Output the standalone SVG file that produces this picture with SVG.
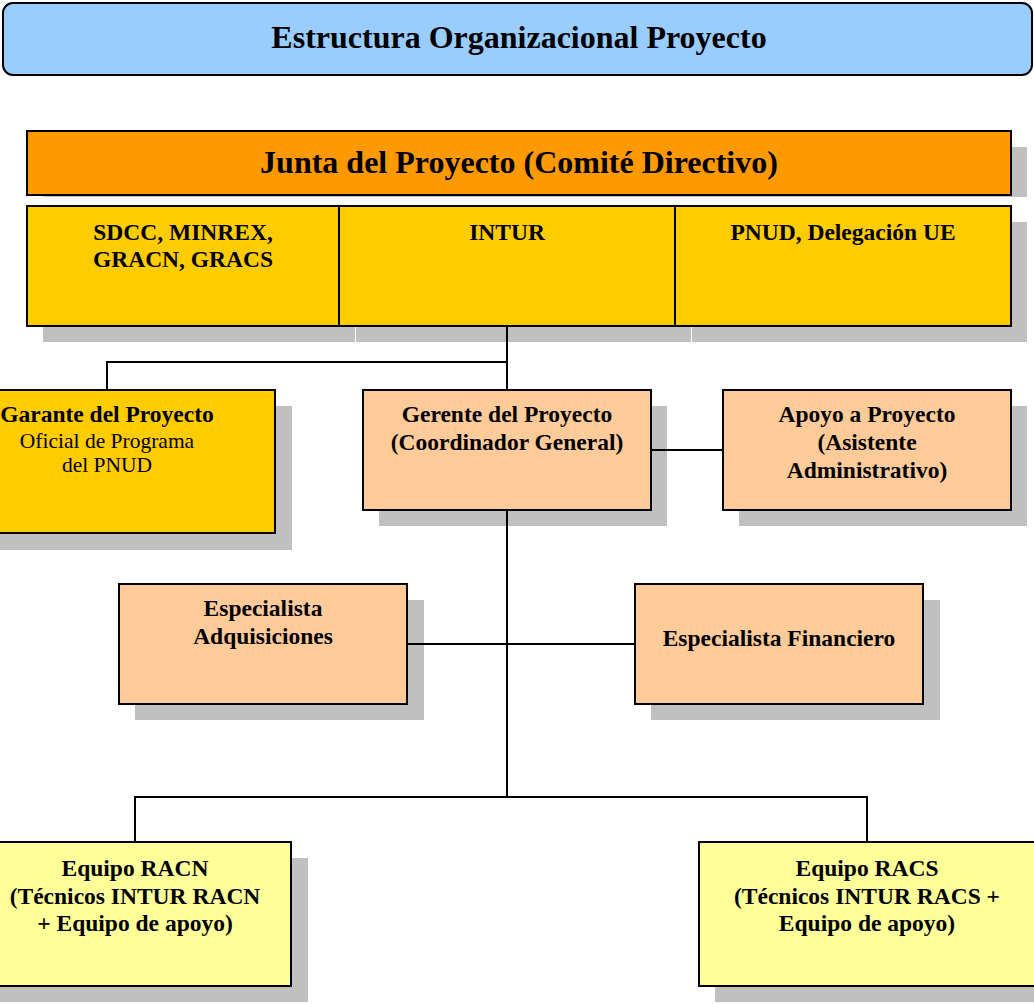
<svg xmlns="http://www.w3.org/2000/svg" width="1034" height="1004" viewBox="0 0 1034 1004">
<style>
.sh{fill:#C0C0C0}
.bx{stroke:#000;stroke-width:2}
.t{font-family:"Liberation Serif","Times New Roman",serif;font-size:23.5px;font-weight:bold;text-anchor:middle;fill:#000}
.r{font-weight:normal;font-size:21.5px}
.big{font-size:32px}
.ln{stroke:#000;stroke-width:2;fill:none}
</style>
<rect width="1034" height="1004" fill="#fff"/>
<g id="title">
<rect x="3" y="3" width="1029" height="72" rx="10" ry="10" fill="#99CCFF" class="bx"/>
<text x="519" y="48" class="t big">Estructura Organizacional Proyecto</text>
</g>
<g id="junta">
<rect x="43" y="147" width="984" height="50" class="sh"/>
<rect x="27" y="131" width="984" height="64" fill="#FF9900" class="bx"/>
<text x="519" y="173" class="t big">Junta del Proyecto (Comité Directivo)</text>
</g>
<g id="sdcc">
<rect x="43" y="222" width="312" height="120" class="sh"/>
<rect x="27" y="206" width="312" height="120" fill="#FFCC00" class="bx"/>
<text x="183" y="240" class="t">SDCC, MINREX,</text>
<text x="183" y="267" class="t">GRACN, GRACS</text>
</g>
<g id="intur">
<rect x="356" y="222" width="335" height="120" class="sh"/>
<rect x="339" y="206" width="336" height="120" fill="#FFCC00" class="bx"/>
<text x="507" y="240" class="t">INTUR</text>
</g>
<g id="pnud">
<rect x="692" y="222" width="335" height="120" class="sh"/>
<rect x="675" y="206" width="336" height="120" fill="#FFCC00" class="bx"/>
<text x="843" y="240" class="t">PNUD, Delegación UE</text>
</g>
<g id="garante">
<rect x="-16" y="406" width="308" height="144" class="sh"/>
<rect x="-32" y="390" width="307" height="143" fill="#FFCC00" class="bx"/>
<text x="107" y="422" class="t">Garante del Proyecto</text>
<text x="107" y="448" class="t r">Oficial de Programa</text>
<text x="107" y="472" class="t r">del PNUD</text>
</g>
<g id="gerente">
<rect x="379" y="406" width="288" height="120" class="sh"/>
<rect x="363" y="390" width="288" height="120" fill="#FFCC99" class="bx"/>
<text x="507" y="422" class="t">Gerente del Proyecto</text>
<text x="507" y="450" class="t">(Coordinador General)</text>
</g>
<g id="apoyo">
<rect x="739" y="406" width="288" height="120" class="sh"/>
<rect x="723" y="390" width="288" height="120" fill="#FFCC99" class="bx"/>
<text x="867" y="422" class="t">Apoyo a Proyecto</text>
<text x="867" y="450" class="t">(Asistente</text>
<text x="867" y="478" class="t">Administrativo)</text>
</g>
<g id="adquisiciones">
<rect x="135" y="600" width="289" height="120" class="sh"/>
<rect x="119" y="584" width="288" height="120" fill="#FFCC99" class="bx"/>
<text x="263" y="616" class="t">Especialista</text>
<text x="263" y="644" class="t">Adquisiciones</text>
</g>
<g id="financiero">
<rect x="651" y="600" width="289" height="120" class="sh"/>
<rect x="635" y="584" width="288" height="120" fill="#FFCC99" class="bx"/>
<text x="779" y="646" class="t">Especialista Financiero</text>
</g>
<g id="racn">
<rect x="-16" y="858" width="324" height="144" class="sh"/>
<rect x="-32" y="842" width="323" height="144" fill="#FFFF99" class="bx"/>
<text x="135" y="876" class="t">Equipo RACN</text>
<text x="135" y="904" class="t">(Técnicos INTUR RACN</text>
<text x="135" y="931" class="t">+ Equipo de apoyo)</text>
</g>
<g id="racs">
<rect x="715" y="858" width="340" height="144" class="sh"/>
<rect x="699" y="842" width="360" height="144" fill="#FFFF99" class="bx"/>
<text x="867" y="876" class="t">Equipo RACS</text>
<text x="867" y="904" class="t">(Técnicos INTUR RACS +</text>
<text x="867" y="931" class="t">Equipo de apoyo)</text>
</g>
<g id="connectors">
<path class="ln" d="M507 327V389M107 389V362H507M652 450H722M507 511V797M135 841V797H867V841M408 644H634"/>
</g>
</svg>
